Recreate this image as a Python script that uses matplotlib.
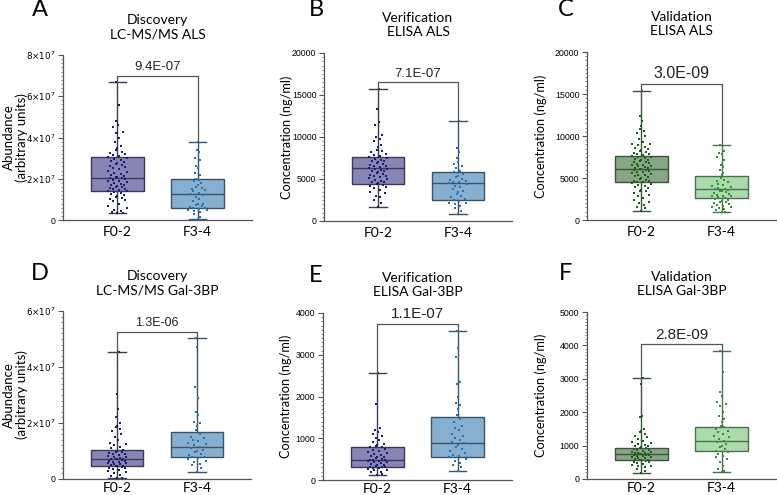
import numpy as np
import matplotlib
matplotlib.use("Agg")
import matplotlib.pyplot as plt
from matplotlib.ticker import AutoMinorLocator, FuncFormatter

plt.rcParams['font.family'] = ['Lato', 'DejaVu Sans']

groups = ["F0-2", "F3-4"]

# box stats per panel: (whislo, q1, med, q3, whishi)
a_box = [(0.32, 1.42, 2.05, 3.07, 6.67), (0.03, 0.57, 1.26, 1.97, 3.80)]      # x1e7
b_box = [(1710, 4410, 6280, 7670, 15700), (800, 2500, 4570, 5800, 11850)]
c_box = [(1110, 4570, 6080, 7600, 15390), (910, 2660, 3660, 5290, 8870)]
d_box = [(0.02, 0.45, 0.71, 1.02, 4.52), (0.24, 0.77, 1.14, 1.67, 5.02)]      # x1e7
e_box = [(120, 300, 480, 780, 2560), (220, 560, 880, 1520, 3580)]
f_box = [(180, 570, 750, 940, 3020), (200, 830, 1140, 1560, 3830)]

# individual samples (estimated)
a_f02 = [6.67, 5.6, 4.8, 4.6, 4.5, 4.25, 4.2, 4.0, 3.8, 3.6, 3.5, 3.4, 3.3, 3.25, 3.2, 3.15,
         3.1, 3.05, 3.0, 2.95, 2.9, 2.85, 2.8, 2.75, 2.7, 2.65, 2.6, 2.55, 2.5, 2.45, 2.4, 2.35,
         2.3, 2.25, 2.2, 2.15, 2.1, 2.08, 2.05, 2.02, 2.0, 1.95, 1.9, 1.88, 1.85, 1.8, 1.75, 1.7,
         1.68, 1.65, 1.6, 1.58, 1.55, 1.5, 1.48, 1.45, 1.42, 1.4, 1.35, 1.3, 1.25, 1.2, 1.15, 1.1,
         1.05, 1.0, 0.95, 0.9, 0.8, 0.7, 0.6, 0.5, 0.45, 0.4, 0.35, 0.32]
a_f34 = [3.8, 3.4, 3.3, 3.0, 2.9, 2.6, 2.5, 2.3, 2.2, 2.0, 1.95, 1.9, 1.8, 1.7, 1.6, 1.55, 1.5,
         1.45, 1.4, 1.3, 1.25, 1.2, 1.1, 1.0, 0.9, 0.8, 0.78, 0.75, 0.7, 0.65, 0.6, 0.58, 0.55,
         0.5, 0.48, 0.45, 0.4, 0.3, 0.15, 0.03]
b_f02 = [15700, 13300, 11800, 11400, 10200, 10000, 9800, 9500, 9100, 8800, 8500, 8300, 8200,
         8000, 7900, 7700, 7600, 7500, 7400, 7300, 7200, 7100, 7000, 6900, 6800, 6700, 6600,
         6500, 6400, 6300, 6250, 6200, 6100, 6000, 5900, 5800, 5700, 5600, 5500, 5400, 5300,
         5200, 5100, 5000, 4900, 4800, 4700, 4600, 4500, 4400, 4300, 4200, 4000, 3900, 3700,
         3500, 3300, 3000, 2800, 2500, 2200, 1710]
b_f34 = [11850, 8700, 8200, 7500, 7000, 6800, 6500, 6300, 6000, 5800, 5600, 5400, 5200, 5000,
         4900, 4800, 4700, 4600, 4500, 4400, 4200, 4000, 3800, 3600, 3400, 3200, 3000, 2800,
         2600, 2500, 2400, 2200, 2100, 2000, 1800, 1500, 1200, 800]
c_f02 = [15390, 12400, 11800, 11200, 10800, 10600, 10300, 10000, 9600, 9300, 9100, 9000, 8900,
         8700, 8600, 8400, 8300, 8200, 8100, 8000, 7900, 7800, 7700, 7600, 7500, 7450, 7400,
         7300, 7200, 7100, 7000, 6950, 6900, 6800, 6700, 6600, 6500, 6450, 6400, 6300, 6200,
         6150, 6100, 6050, 6000, 5900, 5800, 5750, 5700, 5600, 5500, 5400, 5300, 5200, 5100,
         5000, 4900, 4800, 4700, 4600, 4550, 4500, 4400, 4300, 4200, 4000, 3900, 3800, 3600,
         3500, 3400, 3200, 3000, 2800, 2600, 2400, 2200, 2000, 1800, 1600, 1400, 1110]
c_f34 = [8870, 8200, 8000, 7800, 7500, 7200, 6600, 6300, 6000, 5600, 5300, 5000, 4800, 4600,
         4500, 4300, 4200, 4000, 3900, 3800, 3750, 3700, 3600, 3500, 3400, 3300, 3200, 3100,
         3000, 2900, 2850, 2800, 2700, 2600, 2500, 2400, 2300, 2200, 2100, 2000, 1900, 1800,
         1700, 1600, 1500, 1400, 1300, 1200, 1000, 910]
d_f02 = [4.52, 3.05, 2.5, 2.2, 2.0, 1.9, 1.85, 1.8, 1.7, 1.6, 1.5, 1.4, 1.3, 1.25, 1.2, 1.15,
         1.1, 1.05, 1.0, 0.98, 0.95, 0.92, 0.9, 0.88, 0.85, 0.82, 0.8, 0.78, 0.75, 0.73, 0.72,
         0.71, 0.7, 0.68, 0.66, 0.64, 0.62, 0.6, 0.58, 0.56, 0.54, 0.52, 0.5, 0.48, 0.46, 0.45,
         0.43, 0.4, 0.38, 0.35, 0.32, 0.3, 0.25, 0.2, 0.15, 0.1, 0.05, 0.02]
d_f34 = [5.02, 4.7, 3.3, 2.9, 2.4, 2.3, 2.05, 2.0, 1.9, 1.75, 1.6, 1.5, 1.45, 1.4, 1.35, 1.3,
         1.25, 1.2, 1.15, 1.1, 1.05, 1.0, 0.95, 0.9, 0.85, 0.8, 0.78, 0.75, 0.7, 0.65, 0.6,
         0.55, 0.5, 0.4, 0.24]
e_f02 = [2560, 1830, 1250, 1200, 1150, 1100, 1050, 1000, 950, 900, 860, 840, 820, 800, 780,
         750, 720, 700, 680, 650, 620, 600, 580, 560, 540, 520, 500, 490, 480, 470, 460, 450,
         440, 420, 400, 380, 360, 350, 330, 320, 310, 300, 290, 280, 260, 250, 230, 200, 180,
         150, 120]
e_f34 = [3580, 3150, 2950, 2350, 2300, 2000, 1850, 1800, 1700, 1550, 1450, 1400, 1300, 1250,
         1200, 1100, 1050, 1000, 950, 900, 880, 850, 800, 750, 700, 650, 600, 580, 550, 500,
         450, 400, 350, 300, 220]
f_f02 = [3020, 2850, 1900, 1850, 1500, 1450, 1400, 1350, 1300, 1250, 1200, 1150, 1100, 1080,
         1050, 1020, 1000, 980, 960, 940, 920, 900, 880, 860, 840, 820, 800, 790, 780, 770, 760,
         750, 740, 730, 720, 710, 700, 680, 660, 650, 640, 620, 600, 580, 570, 560, 540, 520,
         500, 480, 450, 420, 400, 380, 350, 300, 250, 180]
f_f34 = [3830, 3200, 2600, 2500, 2300, 2250, 2200, 2000, 1900, 1800, 1700, 1600, 1550, 1500,
         1450, 1400, 1350, 1300, 1250, 1200, 1150, 1100, 1050, 1000, 950, 900, 850, 800, 750,
         700, 650, 600, 500, 400, 300, 250, 200]

p_values = ["9.4E-07", "7.1E-07", "3.0E-09", "1.3E-06", "1.1E-07", "2.8E-09"]
titles = ["Discovery\nLC-MS/MS ALS", "Verification\nELISA ALS", "Validation\nELISA ALS",
          "Discovery\nLC-MS/MS Gal-3BP", "Verification\nELISA Gal-3BP", "Validation\nELISA Gal-3BP"]
letters = ["A", "B", "C", "D", "E", "F"]

purple = dict(box="#8685b6", pts="#1c1c6c", edge="#3a3a55")
blue = dict(box="#87b0d0", pts="#2a70ae", edge="#3c5266")
dgreen = dict(box="#87a686", pts="#1e5a1e", edge="#3f513f")
lgreen = dict(box="#abdbab", pts="#3a8c3a", edge="#4d6b58")

W, H = 777, 495
fig = plt.figure(figsize=(W / 100, H / 100), dpi=100)

# (left, top, right, bottom) in pixels
rects = [(63, 55, 252, 220), (324, 53, 512, 221), (587, 52, 776, 220),
         (63, 311, 251, 479), (323, 313, 512, 480), (587, 312, 776, 479)]
panels = [
    (a_box, a_f02, a_f34, 8, 2, (purple, blue), True, 9.5, -0.185),
    (b_box, b_f02, b_f34, 20000, 5000, (purple, blue), False, 9.5, -0.165),
    (c_box, c_f02, c_f34, 20000, 5000, (dgreen, lgreen), False, 11.5, -0.21),
    (d_box, d_f02, d_f34, 6, 2, (purple, blue), True, 9, -0.185),
    (e_box, e_f02, e_f34, 4000, 1000, (purple, blue), False, 11, -0.165),
    (f_box, f_f02, f_f34, 5000, 1000, (dgreen, lgreen), False, 11, -0.21),
]
letter_pos = [(40, 10), (316, 10), (566, 10), (40, 273), (316, 276), (566, 273)]


def jitter(vals, amp=0.13):
    v = np.asarray(vals, dtype=float)
    span = v.max() - v.min()
    pattern = [0, 0.6, -0.6, 0.3, -0.3, 0.9, -0.9, 0.15, -0.45, 0.75, -0.75, 0.45, -0.15]
    offs = np.zeros(len(v))
    for k, i in enumerate(np.argsort(v)):
        n = np.sum(np.abs(v - v[i]) < 0.04 * span)
        offs[i] = min(amp, 0.02 * n) * pattern[k % len(pattern)]
    return offs


def sci(val, pos):
    if val == 0:
        return "0"
    return r"$%d{\times}10^{7}$" % round(val)


for i, (boxes, g1, g2, ymax, ystep, cols, is_sci, pfs, ylx) in enumerate(panels):
    l, t, r, b = rects[i]
    ax = fig.add_axes([l / W, 1 - b / H, (r - l) / W, (b - t) / H])

    for j, (st, pts, col) in enumerate(zip(boxes, (g1, g2), cols)):
        lo, q1, med, q3, hi = st
        stats = [dict(med=med, q1=q1, q3=q3, whislo=lo, whishi=hi, fliers=[])]
        ax.bxp(stats, positions=[j + 1], widths=0.66, capwidths=0.22, patch_artist=True,
               showfliers=False,
               boxprops=dict(facecolor=col["box"], edgecolor=col["edge"], linewidth=1.0),
               medianprops=dict(color=col["edge"], linewidth=1.0),
               whiskerprops=dict(color=col["edge"], linewidth=1.0),
               capprops=dict(color=col["edge"], linewidth=1.0))
        ax.scatter(j + 1 + jitter(pts), pts, s=3, marker="s", color=col["pts"],
                   linewidths=0, zorder=4)

    # significance bracket
    top0, top1 = boxes[0][4], boxes[1][4]
    br = max(top0, top1) + ymax * 0.04
    ax.plot([1, 1, 2, 2], [top0, br, br, top1], color="#555555", lw=0.9, zorder=5)
    ax.text(1.5, br + ymax * 0.015, p_values[i], ha="center", va="bottom", fontsize=pfs,
            family=["Liberation Sans", "DejaVu Sans"], color="#222222")

    ax.set_xlim(0.32, 2.68)
    ax.set_ylim(0, ymax)
    ax.set_yticks(np.arange(0, ymax + ystep / 2, ystep))
    ax.yaxis.set_minor_locator(AutoMinorLocator(10))
    ax.set_xticks([1, 2])
    ax.set_xticklabels(groups, fontsize=10)
    ax.tick_params(axis="x", length=0, pad=4 if i < 3 else 2)
    ax.tick_params(axis="y", which="major", length=3.5, width=0.8, labelsize=6.3,
                   color="#555555", pad=2)
    ax.tick_params(axis="y", which="minor", length=1.8, width=0.6, color="#777777")
    for lab in ax.get_yticklabels():
        lab.set_family(["Liberation Sans", "DejaVu Sans"])
    if is_sci:
        ax.yaxis.set_major_formatter(FuncFormatter(sci))
        ax.set_ylabel("Abundance\n(arbitrary units)", fontsize=9.5, linespacing=1.05)
    else:
        ax.set_ylabel("Concentration (ng/ml)", fontsize=9.2)
    ax.yaxis.set_label_coords(ylx, 0.5)

    for s in ("top", "right"):
        ax.spines[s].set_visible(False)
    for s in ("left", "bottom"):
        ax.spines[s].set_color("#555555")
        ax.spines[s].set_linewidth(0.9)

    ax.set_title(titles[i], fontsize=10, pad=12, linespacing=1.25)
    lx, ly = letter_pos[i]
    fig.text(lx / W, 1 - ly / H, letters[i], fontsize=17, ha="center", va="center")

fig.savefig("out.png", dpi=100)
